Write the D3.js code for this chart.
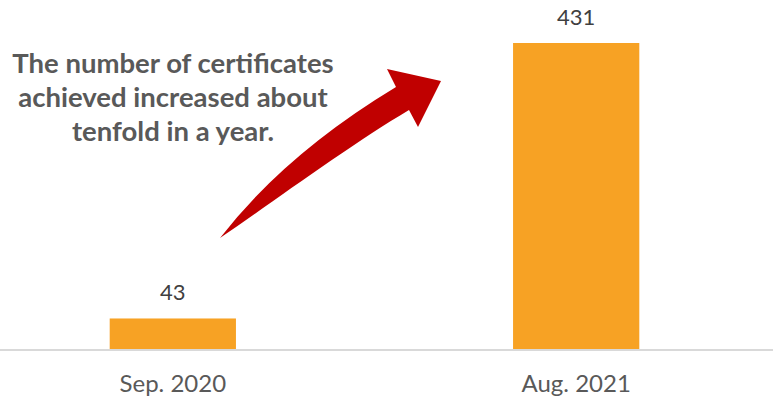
<!DOCTYPE html>
<html>
<head>
<meta charset="utf-8">
<script src="https://cdn.jsdelivr.net/npm/d3@7"></script>
<style>
  html, body { margin: 0; padding: 0; background: #ffffff; }
  svg { display: block; }
</style>
</head>
<body>
<svg id="chart" width="773" height="397"></svg>
<script>
// Certificates achieved per period
const categories = ["Sep. 2020", "Aug. 2021"];
const certificates = [43, 431];
const noteLines = [
  "The number of certificates",
  "achieved increased about",
  "tenfold in a year."
];

const W = 773, H = 397;
const baseY = 349;   // bottom of the bars
const font = "Lato, 'Open Sans', sans-serif";
const svg = d3.select("#chart");

const x = d3.scaleBand()
  .domain(categories)
  .range([-12, 761])
  .paddingInner(0.687)
  .paddingOuter(0.3017);

const y = d3.scaleLinear()
  .domain([0, 431])
  .range([baseY, 43]);

const rows = categories.map((c, i) => ({ c, v: certificates[i] }));

// bars
svg.append("g")
  .selectAll("rect")
  .data(rows)
  .join("rect")
  .attr("x", d => x(d.c))
  .attr("width", x.bandwidth())
  .attr("y", d => y(d.v))
  .attr("height", d => y(0) - y(d.v))
  .attr("fill", "#F7A224");

// baseline
svg.append("line")
  .attr("x1", 0).attr("x2", W)
  .attr("y1", baseY + 1).attr("y2", baseY + 1)
  .attr("stroke", "#D9D9D9")
  .attr("stroke-width", 2);

// category labels
const xAxis = d3.axisBottom(x).tickSize(0).tickPadding(0);
const gx = svg.append("g")
  .attr("transform", `translate(0,${baseY})`)
  .call(xAxis);
gx.select(".domain").remove();
gx.selectAll("text")
  .attr("dy", null)
  .attr("y", 42.5)
  .attr("font-family", font)
  .attr("font-size", 24)
  .attr("fill", "#595959");

// value labels
svg.append("g")
  .selectAll("text")
  .data(rows)
  .join("text")
  .attr("x", d => x(d.c) + x.bandwidth() / 2)
  .attr("y", d => y(d.v) - 18)
  .attr("text-anchor", "middle")
  .attr("font-family", font)
  .attr("font-size", 22)
  .attr("fill", "#404040")
  .text(d => d.v);

// curved arrow from the first bar towards the second
svg.append("path")
  .attr("d",
    "M220,238 Q285,154 396,87 L387,69 L441,81 L418,127 L409,110 " +
    "C350,145 270,204 220,238 Z")
  .attr("fill", "#C00000");

// annotation
svg.append("text")
  .attr("x", 173)
  .attr("y", 72.5)
  .attr("text-anchor", "middle")
  .attr("font-family", font)
  .attr("font-weight", "bold")
  .attr("font-size", 27.5)
  .attr("fill", "#595959")
  .selectAll("tspan")
  .data(noteLines)
  .join("tspan")
  .attr("x", 173)
  .attr("dy", (d, i) => i === 0 ? 0 : 34)
  .text(d => d);
</script>
</body>
</html>
